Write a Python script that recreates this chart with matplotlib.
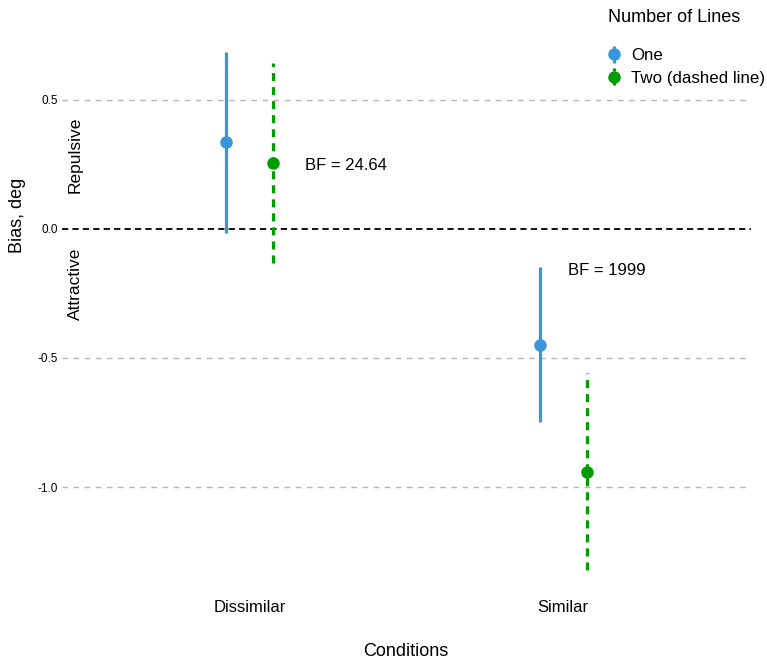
import matplotlib
matplotlib.use('Agg')
import matplotlib.pyplot as plt
import numpy as np

plt.rcParams['font.family'] = ['Liberation Sans', 'DejaVu Sans']
plt.rcParams['axes.unicode_minus'] = False
plt.rcParams['lines.scale_dashes'] = False

# Données
conditions = ['Dissimilar', 'Similar']
one_mean = [0.337, -0.450]
one_lo = [-0.016, -0.748]
one_hi = [0.686, -0.147]
two_mean = [0.256, -0.942]
two_lo = [-0.132, -1.322]
two_hi = [0.643, -0.558]
bf_labels = ['BF = 24.64', 'BF = 1999']
y_ticks = [-1.0, -0.5, 0.0, 0.5]

BLUE = '#3a96db'
GREEN = '#009c00'

fig = plt.figure(figsize=(7.67, 6.62), dpi=100)
ax = fig.add_axes([0.081, 0.0997, 0.898, 0.861])

x = np.arange(1, len(conditions) + 1)
dodge = 0.075

# grille horizontale
for t in y_ticks:
    if t == 0:
        ax.axhline(t, color='black', lw=1.3, ls=(0, (4.5, 3)), zorder=1)
    else:
        ax.axhline(t, color='#b5b5b5', lw=1.0, ls=(0, (4, 4)), zorder=1)

one_err = [np.array(one_mean) - np.array(one_lo), np.array(one_hi) - np.array(one_mean)]
two_err = [np.array(two_mean) - np.array(two_lo), np.array(two_hi) - np.array(two_mean)]

e1 = ax.errorbar(x - dodge, one_mean, yerr=one_err, fmt='o', color=BLUE,
                 ecolor=BLUE, elinewidth=2.3, markersize=8, capsize=0,
                 label='One', zorder=3)
e2 = ax.errorbar(x + dodge, two_mean, yerr=two_err, fmt='o', color=GREEN,
                 ecolor=GREEN, elinewidth=2.3, markersize=8, capsize=0,
                 label='Two (dashed line)', zorder=3)
e2[2][0].set_linestyle((0, (5.8, 4.3)))

# facteurs de Bayes
ax.text(x[0] + 0.176, 0.244, bf_labels[0], fontsize=12, ha='left', va='center')
ax.text(x[1] + 0.016, -0.163, bf_labels[1], fontsize=12, ha='left', va='center')

ax.set_xlim(0.4, 2.6)
ax.set_ylim(-1.422, 0.786)
ax.set_xticks(x)
ax.set_xticklabels(conditions, fontsize=12)
ax.set_yticks(y_ticks)
ax.set_yticklabels(['%.1f' % t for t in y_ticks], fontsize=8.5)
ax.tick_params(length=0, pad=3)
ax.tick_params(axis='x', pad=3)
for s in ax.spines.values():
    s.set_visible(False)

fig.text(406 / 767, 1 - 652 / 662, 'Conditions', fontsize=13,
         ha='center', va='center')
fig.text(18 / 767, 1 - 215 / 662, 'Bias, deg', rotation=90, fontsize=13,
         ha='center', va='center')
fig.text(75 / 767, 1 - 155 / 662, 'Repulsive', rotation=90, fontsize=12.5,
         ha='center', va='center')
fig.text(75 / 767, 1 - 284 / 662, 'Attractive', rotation=90, fontsize=12.5,
         ha='center', va='center')

# légende
fig.text(608 / 767, 1 - 17 / 662, 'Number of Lines', fontsize=13,
         ha='left', va='center')
leg = fig.legend(handles=[e1, e2], loc='upper left',
                 bbox_to_anchor=(592 / 767, 1 - 33 / 662), frameon=False,
                 fontsize=12.2, handlelength=0.8,
                 handletextpad=0.6, labelspacing=0.45)

fig.savefig('out.png', dpi=100)
